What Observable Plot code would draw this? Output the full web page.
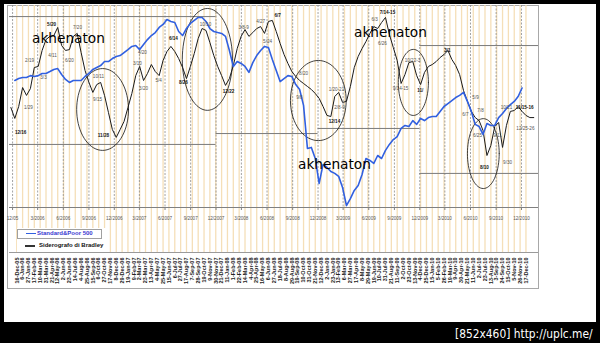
<!DOCTYPE html>
<html>
<head>
<meta charset="utf-8">
<script src="https://cdn.jsdelivr.net/npm/d3@7"></script>
<script src="https://cdn.jsdelivr.net/npm/@observablehq/plot@0.6"></script>
<style>
  html, body { margin: 0; padding: 0; background: #000; }
  #wrap { position: relative; width: 600px; height: 343px; background: #000; overflow: hidden; }
  #page { position: absolute; left: 4px; top: 4px; width: 592px; height: 318px; background: #fff; }
  #frame { position: absolute; left: 7px; top: 5px; width: 530px; height: 282px; border: 1px solid #a8a8a8; }
  #chart { position: absolute; left: 0; top: 0; }
  .wm { position: absolute; font: 13.7px "DejaVu Sans", sans-serif; line-height: 11px; color: #000; white-space: nowrap; }
  #legend { position: absolute; left: 17px; top: 228px; width: 90px; height: 24px; background: #fff; font: bold 6px "Liberation Sans", Arial, sans-serif; }
  #footer { position: absolute; left: 455px; top: 326px; font: 13px "DejaVu Sans", sans-serif; color: #fff; white-space: nowrap; transform-origin: 0 0; transform: scaleX(0.82); }
</style>
</head>
<body>
<div id="wrap">
  <div id="page"></div>
  <div id="frame"></div>
  <div id="chart"></div>
  <div id="legend">
    <div style="position:absolute;left:0;top:1px;width:83px;height:8px;border:1px solid #a0a0a0;"></div>
    <div style="position:absolute;left:9px;top:5px;width:10px;height:1.2px;background:#3160e0;"></div>
    <div style="position:absolute;left:20px;top:2px;color:#3a3ad0;">Standard&amp;Poor 500</div>
    <div style="position:absolute;left:8px;top:17px;width:10px;height:1.6px;background:#333;"></div>
    <div style="position:absolute;left:22px;top:14px;color:#111;">Siderografo di Bradley</div>
  </div>
  <div class="wm" style="left:32px;top:32.8px;">akhenaton</div>
  <div class="wm" style="left:354px;top:26.8px;">akhenaton</div>
  <div class="wm" style="left:298px;top:158.8px;">akhenaton</div>
  <div id="footer">[852x460] http://uplc.me/</div>
</div>
<script>
// ---------------- data ----------------
// S&P 500, two-week steps starting 2005-12-09
const spStart = "2005-12-09";
const spValues = [1260,1269,1274,1274,1283,1279,1283,1293,1293,1302,
  1312,1316,1288,1265,1251,1260,1260,1260,1279,1293,
  1312,1321,1330,1349,1349,1363,1373,1377,1391,1405,
  1420,1424,1405,1429,1452,1471,1485,1509,1523,1546,
  1537,1532,1490,1471,1504,1528,1542,1556,1556,1537,
  1504,1490,1485,1481,1467,1401,1326,1349,1340,1326,
  1298,1344,1377,1401,1420,1415,1359,1307,1255,1269,
  1283,1279,1241,1218,1143,941,946,894,777,866,
  852,833,824,810,758,673,706,744,767,819,
  894,885,871,908,894,932,960,983,997,1035,
  1049,1044,1072,1054,1082,1072,1086,1091,1091,1115,
  1138,1152,1166,1180,1190,1204,1162,1115,1054,1044,
  1007,1058,1049,1049,1086,1105,1129,1147,1162,1185,
  1225];

// Bradley siderograph (drawn on the same axis), two-week steps starting 2005-11-25
const bradleyStart = "2005-11-25";
const bradleyValues = [1133,1082,1138,1227,1190,1222,1321,1326,1401,1452,
  1467,1471,1509,1424,1401,1405,1467,1481,1391,1307,
  1251,1204,1241,1251,1190,1110,1030,993,1030,1068,
  1133,1199,1283,1326,1260,1293,1335,1302,1283,1354,
  1396,1420,1396,1363,1321,1269,1326,1387,1457,1504,
  1495,1438,1377,1326,1283,1237,1269,1330,1410,1467,
  1499,1467,1485,1504,1513,1481,1537,1542,1490,1434,
  1382,1340,1302,1279,1260,1246,1232,1218,1199,1176,
  1138,1096,1091,1185,1204,1157,1162,1232,1321,1373,
  1410,1443,1481,1513,1504,1532,1556,1476,1415,1354,
  1246,1288,1344,1349,1283,1241,1298,1326,1335,1349,
  1368,1382,1401,1359,1330,1288,1213,1162,1115,1086,
  1072,1025,908,955,1044,1063,946,1049,1115,1119,
  1138,1115,1096,1086,1086];

// Turning-date annotations on the Bradley line
const bradleyLabels = [
  {date:"2005-12-30", value:1016, label:"12/16", bold:true},
  {date:"2006-01-27", value:1133, label:"1/29", bold:false},
  {date:"2006-01-31", value:1354, label:"2/19", bold:false},
  {date:"2006-03-22", value:1274, label:"3/3", bold:false},
  {date:"2006-04-20", value:1523, label:"5/20", bold:true},
  {date:"2006-04-23", value:1377, label:"4/11", bold:false},
  {date:"2006-06-23", value:1354, label:"6/20", bold:false},
  {date:"2006-07-22", value:1509, label:"7/20", bold:false},
  {date:"2006-10-05", value:1279, label:"10/11", bold:false},
  {date:"2006-10-02", value:1171, label:"9/15", bold:false},
  {date:"2006-10-23", value:1002, label:"11/28", bold:true},
  {date:"2007-02-22", value:1340, label:"3/10", bold:false},
  {date:"2007-03-16", value:1222, label:"3/20", bold:false},
  {date:"2007-03-12", value:1391, label:"4/20", bold:false},
  {date:"2007-05-09", value:1260, label:"5/4", bold:false},
  {date:"2007-07-01", value:1457, label:"6/14", bold:true},
  {date:"2007-08-06", value:1251, label:"8/26", bold:true},
  {date:"2007-10-24", value:1523, label:"10/10", bold:false},
  {date:"2008-01-15", value:1208, label:"12/22", bold:true},
  {date:"2008-03-09", value:1509, label:"3/8-9", bold:false},
  {date:"2008-05-09", value:1537, label:"4/27", bold:false},
  {date:"2008-06-03", value:1443, label:"5/24", bold:false},
  {date:"2008-07-09", value:1565, label:"6/7", bold:true},
  {date:"2008-10-10", value:1293, label:"8/20", bold:false},
  {date:"2008-09-25", value:1180, label:"9/8", bold:false},
  {date:"2009-02-05", value:1218, label:"1/20-21", bold:false},
  {date:"2009-02-16", value:1133, label:"2/8-9", bold:false},
  {date:"2009-01-29", value:1068, label:"12/14", bold:true},
  {date:"2009-06-22", value:1545, label:"6/3", bold:false},
  {date:"2009-08-07", value:1579, label:"7/14-15", bold:true},
  {date:"2009-07-20", value:1434, label:"6/26", bold:false},
  {date:"2009-09-23", value:1222, label:"9/14-15", bold:false},
  {date:"2009-11-05", value:1354, label:"10/22-3", bold:false},
  {date:"2009-12-03", value:1213, label:"11/", bold:true},
  {date:"2010-03-10", value:1401, label:"3/1", bold:true},
  {date:"2010-06-19", value:1180, label:"5/9", bold:false},
  {date:"2010-05-14", value:1100, label:"6/7", bold:false},
  {date:"2010-07-07", value:1119, label:"7/8", bold:false},
  {date:"2010-06-26", value:1002, label:"6/25", bold:false},
  {date:"2010-07-21", value:852, label:"8/10", bold:true},
  {date:"2010-09-06", value:1002, label:"9/11", bold:false},
  {date:"2010-10-12", value:875, label:"9/30", bold:false},
  {date:"2010-10-08", value:1133, label:"10/21", bold:false},
  {date:"2010-12-12", value:1133, label:"11/15-16", bold:true},
  {date:"2010-12-15", value:1035, label:"12/25-26", bold:false}
];

// hand-drawn range boxes (horizontal edges)
const boxLines = [
  {start:"2005-11-20", end:"2007-12-01", level:1560},
  {start:"2005-11-20", end:"2007-12-01", level:960},
  {start:"2007-12-01", end:"2008-12-01", level:1011},
  {start:"2008-12-01", end:"2009-12-01", level:1035},
  {start:"2009-12-01", end:"2011-01-31", level:1424},
  {start:"2009-12-01", end:"2011-01-31", level:824}
];

// hand-drawn ellipses: centre date/value, half-width in days, half-height in points
const ellipses = [
  {id:1, cx:"2006-10-20", cy:1124, rxDays:93, ry:192},
  {id:2, cx:"2007-10-31", cy:1359, rxDays:90, ry:239},
  {id:3, cx:"2008-12-02", cy:1166, rxDays:100, ry:188},
  {id:4, cx:"2009-11-08", cy:1251, rxDays:54, ry:155},
  {id:5, cx:"2010-07-17", cy:917, rxDays:57, ry:164}
];

// quarterly axis ticks
const quarterDates = ["2005-12-01","2006-03-01","2006-06-01","2006-09-01","2006-12-01","2007-03-01","2007-06-01","2007-09-01","2007-12-01","2008-03-01","2008-06-01","2008-09-01","2008-12-01","2009-03-01","2009-06-01","2009-09-01","2009-12-01","2010-03-01","2010-06-01","2010-09-01","2010-12-01"];
const quarterLabels = ["12/05","3/2006","6/2006","9/2006","12/2006","3/2007","6/2007","9/2007","12/2007","3/2008","6/2008","9/2008","12/2008","3/2009","6/2009","9/2009","12/2009","3/2010","6/2010","9/2010","12/2010"];

// three-week category ticks (16-Dec-05 ... 17-Dec-10)
const gridStart = "2005-12-16";
const gridCount = 88;

const xDomain = ["2005-11-20", "2011-01-31"];
const yDomain = [664, 1612];

// ---------------- build ----------------
const parse = s => new Date(s + "T00:00:00Z");
const spData = spValues.map((v, i) => ({date: d3.utcDay.offset(parse(spStart), 14 * i), value: v}));
const brData = bradleyValues.map((v, i) => ({date: d3.utcDay.offset(parse(bradleyStart), 14 * i), value: v}));
const gridDates = d3.range(gridCount).map(i => d3.utcDay.offset(parse(gridStart), 21 * i));
const qDates = quarterDates.map(parse);
const qLabel = new Map(qDates.map((d, i) => [+d, quarterLabels[i]]));
const lbl = bradleyLabels.map(d => ({...d, date: parse(d.date)}));
const boxes = boxLines.map(d => ({...d, start: parse(d.start), end: parse(d.end)}));
const ellipsePts = ellipses.flatMap(e => d3.range(0, 73).map(i => {
  const t = i / 72 * 2 * Math.PI;
  return {id: e.id, date: new Date(+parse(e.cx) + e.rxDays * 864e5 * Math.cos(t)), value: e.cy + e.ry * Math.sin(t)};
}));
const fmt3w = d3.utcFormat("%-d-%b-%y");

const chart = Plot.plot({
  width: 600,
  height: 343,
  marginLeft: 9,
  marginRight: 62,
  marginTop: 5,
  marginBottom: 136,
  style: {background: "transparent", fontFamily: "'Liberation Sans', Arial, sans-serif", overflow: "visible"},
  x: {type: "utc", domain: xDomain.map(parse), label: null},
  y: {domain: yDomain, axis: null},
  marks: [
    Plot.ruleX(gridDates, {stroke: "#f5dfb8", strokeWidth: 1.3, insetBottom: -45}),
    Plot.ruleX(qDates, {stroke: "#8c8c8c", strokeWidth: 0.8, strokeDasharray: "2,1.5"}),
    Plot.ruleY([yDomain[0]], {stroke: "#808080", strokeWidth: 1}),
    Plot.ruleY([yDomain[0]], {stroke: "#9a9a9a", strokeWidth: 1, dy: 45}),
    Plot.ruleY(boxes, {y: "level", x1: "start", x2: "end", stroke: "#7a7a7a", strokeWidth: 1}),
    Plot.axisX(qDates, {anchor: "bottom", label: null, tickSize: 3, tickPadding: 6, fontSize: 4.6, fill: "#555", stroke: "#808080", tickFormat: d => qLabel.get(+d)}),
    Plot.axisX(gridDates, {anchor: "bottom", label: null, tickSize: 0, tickPadding: 50, tickRotate: -90, fontSize: 5.5, fontWeight: "bold", fill: "#222", tickFormat: fmt3w}),
    Plot.line(ellipsePts, {x: "date", y: "value", z: "id", stroke: "#111", strokeWidth: 0.8}),
    Plot.line(brData, {x: "date", y: "value", stroke: "#1a1a1a", strokeWidth: 1}),
    Plot.line(spData, {x: "date", y: "value", stroke: "#3160e0", strokeWidth: 1.6}),
    Plot.text(lbl.filter(d => !d.bold), {x: "date", y: "value", text: "label", fontSize: 4.6, fill: "#555"}),
    Plot.text(lbl.filter(d => d.bold), {x: "date", y: "value", text: "label", fontSize: 4.6, fontWeight: "bold", fill: "#111"})
  ]
});
document.getElementById("chart").appendChild(chart);
</script>
</body>
</html>
